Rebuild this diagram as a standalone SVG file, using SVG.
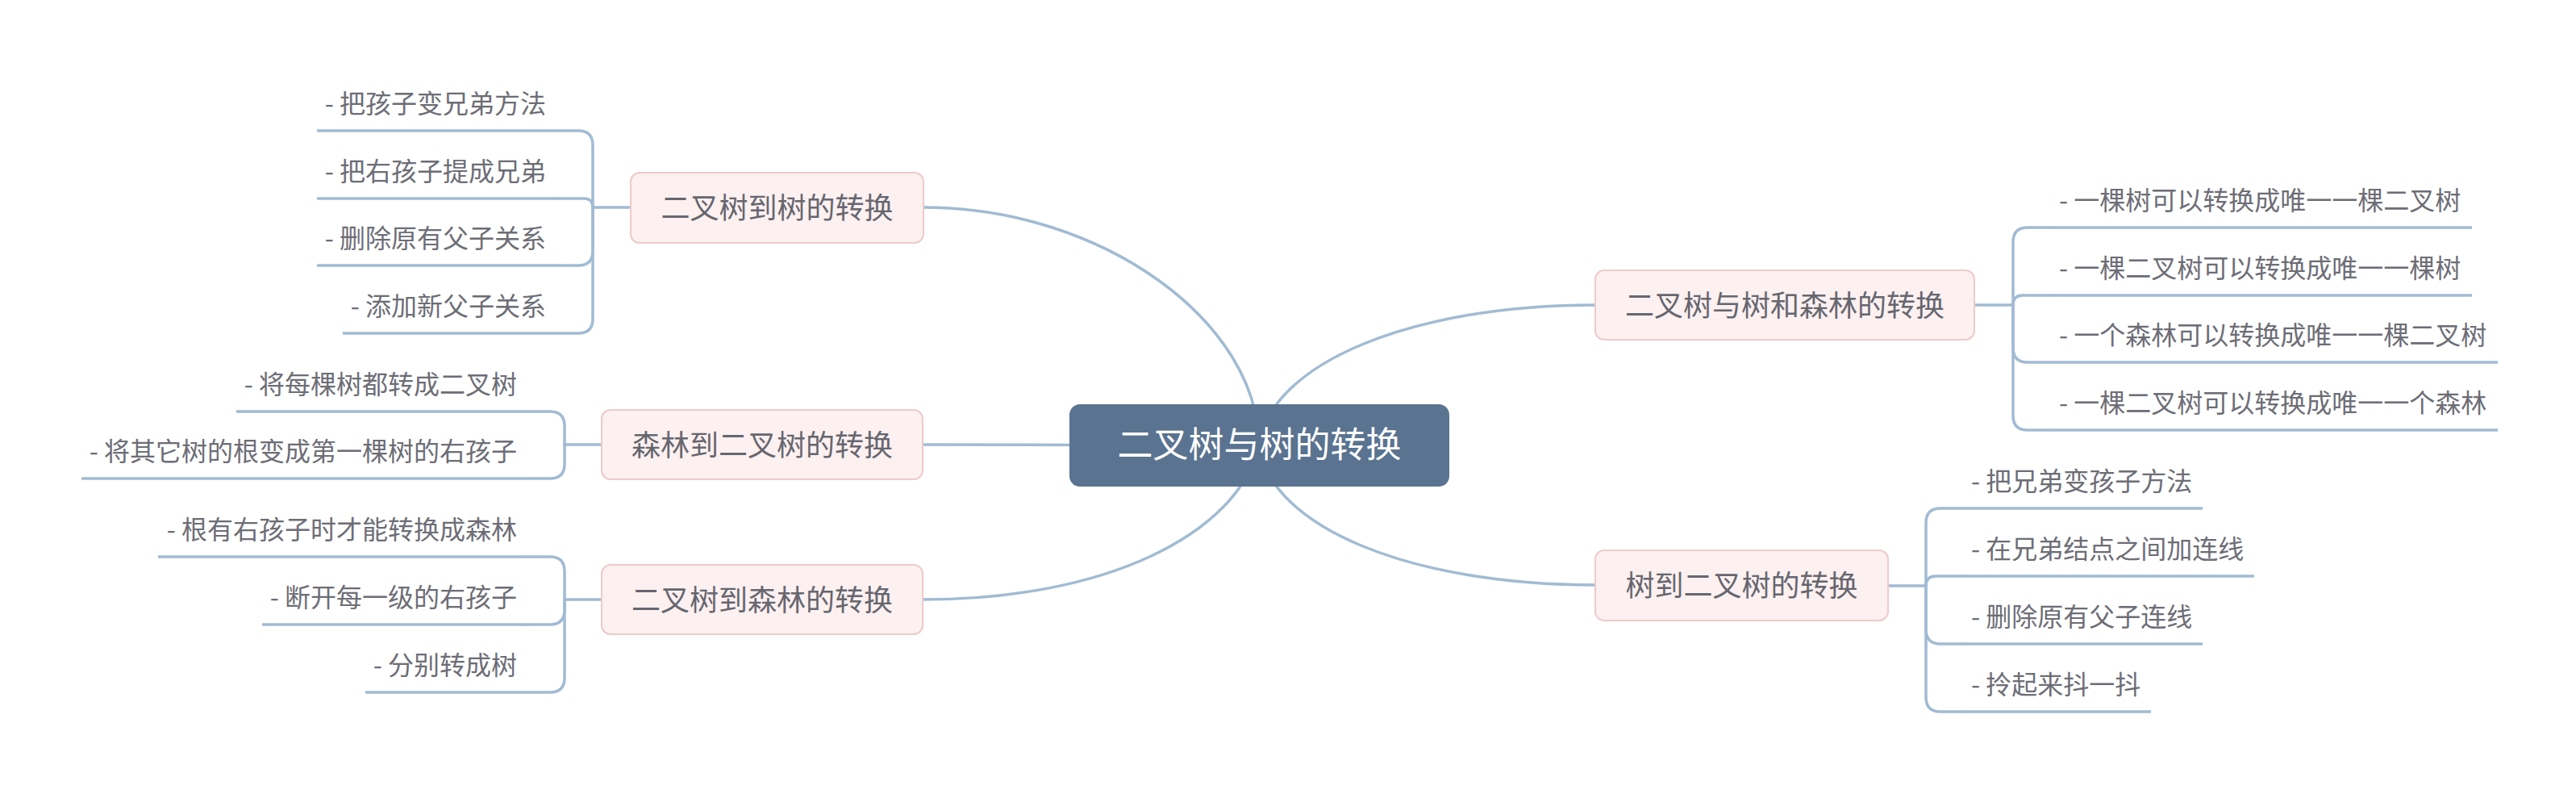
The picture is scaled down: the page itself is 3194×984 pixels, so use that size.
<svg xmlns="http://www.w3.org/2000/svg" width="3194" height="984" viewBox="0 0 3194 984">
<style>
.bg{fill:#ffffff}
.conn{fill:none;stroke:#a1bbd3;stroke-width:3.5;stroke-linecap:round;stroke-linejoin:round}
.ul{fill:none;stroke:#a1bbd3;stroke-width:3.5}
.topic rect{fill:#fcf0f0;stroke:#eecaca;stroke-width:2}
.topic text{font-family:"Noto Sans CJK SC","Noto Sans",sans-serif;font-size:36px;fill:#66666f;text-anchor:middle}
.root rect{fill:#5a7390}
.root text{font-family:"Noto Sans CJK SC","Noto Sans",sans-serif;font-size:44px;fill:#ffffff;text-anchor:middle}
.leaf text{font-family:"Noto Sans CJK SC","Noto Sans",sans-serif;font-size:32px;fill:#6d6d76}
.leaf.l text{text-anchor:end}
.leaf.r text{text-anchor:start}
</style>
<rect class="bg" x="0" y="0" width="3194" height="984"/>
<g id="connectors">
  <!-- root to main topics -->
  <path class="conn" d="M1561 552 C1561 400 1368 257 1145 257"/>
  <path class="conn" d="M1561 552 L1145 551"/>
  <path class="conn" d="M1561 552 C1534 664 1368 743 1145 743"/>
  <path class="conn" d="M1561 552 C1575 450 1750 378 1978 378"/>
  <path class="conn" d="M1561 552 C1575 654 1750 725 1978 725"/>
  <!-- topic 1 brackets -->
  <path class="conn" d="M782 257 H735"/>
  <path class="conn" d="M735 257 V180 Q735 162 717 162 H689"/>
  <path class="conn" d="M735 257 Q735 246 724 246 H689"/>
  <path class="conn" d="M735 257 V311 Q735 329 717 329 H689"/>
  <path class="conn" d="M735 257 V395 Q735 413 717 413 H689"/>
  <!-- topic 2 brackets -->
  <path class="conn" d="M746 551 H700"/>
  <path class="conn" d="M700 551 V528 Q700 510 682 510 H655"/>
  <path class="conn" d="M700 551 V575 Q700 593 682 593 H655"/>
  <!-- topic 3 brackets -->
  <path class="conn" d="M746 743 H700"/>
  <path class="conn" d="M700 743 V708 Q700 690 682 690 H655"/>
  <path class="conn" d="M700 743 V756 Q700 774 682 774 H655"/>
  <path class="conn" d="M700 743 V840 Q700 858 682 858 H655"/>
  <!-- topic 4 brackets -->
  <path class="conn" d="M2448 378 H2496"/>
  <path class="conn" d="M2496 378 V300 Q2496 282 2514 282 H2543"/>
  <path class="conn" d="M2496 378 Q2496 366 2508 366 H2543"/>
  <path class="conn" d="M2496 378 V431 Q2496 449 2514 449 H2543"/>
  <path class="conn" d="M2496 378 V515 Q2496 533 2514 533 H2543"/>
  <!-- topic 5 brackets -->
  <path class="conn" d="M2341 726 H2388"/>
  <path class="conn" d="M2388 726 V648 Q2388 630 2406 630 H2434"/>
  <path class="conn" d="M2388 726 Q2388 714 2400 714 H2434"/>
  <path class="conn" d="M2388 726 V780 Q2388 798 2406 798 H2434"/>
  <path class="conn" d="M2388 726 V864 Q2388 882 2406 882 H2434"/>
</g>

<g id="root" class="root">
  <rect x="1326" y="501" width="471" height="102" rx="13"/>
  <text x="1561.5" y="567">二叉树与树的转换</text>
</g>

<g id="topic1" class="topic">
  <rect x="782" y="214" width="363" height="87" rx="11"/>
  <text x="963.5" y="271">二叉树到树的转换</text>
</g>
<g id="topic2" class="topic">
  <rect x="746" y="508" width="398" height="86" rx="11"/>
  <text x="945" y="565">森林到二叉树的转换</text>
</g>
<g id="topic3" class="topic">
  <rect x="746" y="700" width="398" height="86" rx="11"/>
  <text x="945" y="757">二叉树到森林的转换</text>
</g>
<g id="topic4" class="topic">
  <rect x="1978" y="335" width="470" height="86" rx="11"/>
  <text x="2213" y="392">二叉树与树和森林的转换</text>
</g>
<g id="topic5" class="topic">
  <rect x="1978" y="682" width="363" height="87" rx="11"/>
  <text x="2159.5" y="739">树到二叉树的转换</text>
</g>

<!-- topic 1 leaves -->
<g id="leaf1-1" class="leaf l"><path class="ul" d="M393 162 H689"/><text x="677" y="140">- 把孩子变兄弟方法</text></g>
<g id="leaf1-2" class="leaf l"><path class="ul" d="M393 246 H689"/><text x="677" y="224">- 把右孩子提成兄弟</text></g>
<g id="leaf1-3" class="leaf l"><path class="ul" d="M393 329 H689"/><text x="677" y="307">- 删除原有父子关系</text></g>
<g id="leaf1-4" class="leaf l"><path class="ul" d="M425 413 H689"/><text x="677" y="391">- 添加新父子关系</text></g>

<!-- topic 2 leaves -->
<g id="leaf2-1" class="leaf l"><path class="ul" d="M293 510 H655"/><text x="641" y="488">- 将每棵树都转成二叉树</text></g>
<g id="leaf2-2" class="leaf l"><path class="ul" d="M101 593 H655"/><text x="641" y="571">- 将其它树的根变成第一棵树的右孩子</text></g>

<!-- topic 3 leaves -->
<g id="leaf3-1" class="leaf l"><path class="ul" d="M196 690 H655"/><text x="641" y="668">- 根有右孩子时才能转换成森林</text></g>
<g id="leaf3-2" class="leaf l"><path class="ul" d="M325 774 H655"/><text x="641" y="752">- 断开每一级的右孩子</text></g>
<g id="leaf3-3" class="leaf l"><path class="ul" d="M453 858 H655"/><text x="641" y="836">- 分别转成树</text></g>

<!-- topic 4 leaves -->
<g id="leaf4-1" class="leaf r"><path class="ul" d="M2543 282 H3065"/><text x="2553" y="260">- 一棵树可以转换成唯一一棵二叉树</text></g>
<g id="leaf4-2" class="leaf r"><path class="ul" d="M2543 366 H3065"/><text x="2553" y="344">- 一棵二叉树可以转换成唯一一棵树</text></g>
<g id="leaf4-3" class="leaf r"><path class="ul" d="M2543 449 H3097"/><text x="2553" y="427">- 一个森林可以转换成唯一一棵二叉树</text></g>
<g id="leaf4-4" class="leaf r"><path class="ul" d="M2543 533 H3097"/><text x="2553" y="511">- 一棵二叉树可以转换成唯一一个森林</text></g>

<!-- topic 5 leaves -->
<g id="leaf5-1" class="leaf r"><path class="ul" d="M2434 630 H2731"/><text x="2444" y="608">- 把兄弟变孩子方法</text></g>
<g id="leaf5-2" class="leaf r"><path class="ul" d="M2434 714 H2795"/><text x="2444" y="692">- 在兄弟结点之间加连线</text></g>
<g id="leaf5-3" class="leaf r"><path class="ul" d="M2434 798 H2731"/><text x="2444" y="776">- 删除原有父子连线</text></g>
<g id="leaf5-4" class="leaf r"><path class="ul" d="M2434 882 H2667"/><text x="2444" y="860">- 拎起来抖一抖</text></g>
</svg>
